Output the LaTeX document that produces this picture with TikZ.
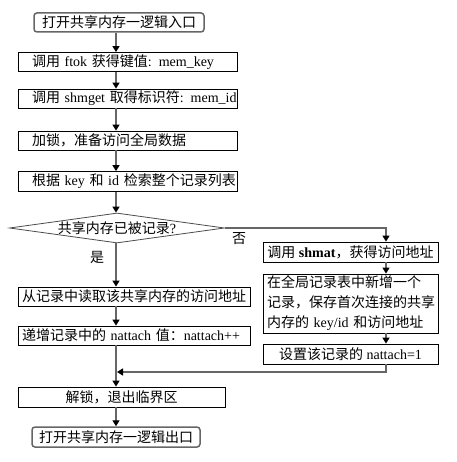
\documentclass[tikz,border=0pt]{standalone}
\usepackage{fontspec}
\setmainfont{Liberation Serif}
\newfontfamily\zhfont{Noto Sans CJK SC}
\newcommand{\zh}[1]{{\zhfont #1}}
\usetikzlibrary{calc,shapes.geometric,arrows.meta}
\tikzset{
	txt/.style={font=\fontsize{14}{20}\selectfont},
	box/.style={txt, draw, line width=0.8pt, inner ysep=0pt, minimum height=19pt},
	lbox/.style={box, align=left},
	cbox/.style={box, align=center},
	endbox/.style={box, draw=black!60, line width=1.5pt, rounded corners=3pt, align=center},
	dia/.style={txt, diamond, draw=black!70, line width=0.8pt, inner sep=0pt, minimum width=215pt, minimum height=30pt},
	arr/.style={draw=black!60, line width=1.4pt, -{Triangle[length=6pt,width=7pt,color=black]}},
}

\begin{document}
\begin{tikzpicture}[x=1pt, y=-1pt]
		%%%%% START %%%%%
		\useasboundingbox (0, 0) rectangle (456, 462);
		\fill[white] (0, 0) rectangle (456, 462);
		
		% lines of the two columns
		\coordinate (mx) at (116, 0);
		\coordinate (nx) at (386, 0);
		\coordinate (merge) at (116, 372);
		
		\node[endbox, minimum width=170pt] (start) at (119, 22.5) {\zh{打开共享内存一逻辑入口}};
		
		\node[lbox, inner xsep=14pt, text width=191pt] (key) at (127.5, 62) {\mbox{\zh{调用} ftok \zh{获得键值}: mem\_key}};
		\node[lbox, inner xsep=14pt, text width=191pt] (id) at (127.5, 98.5) {\mbox{\zh{调用} shmget \zh{取得标识符}: mem\_id}};
		\node[lbox, inner xsep=14pt, text width=191pt] (lock) at (127.5, 140.5) {\zh{加锁，准备访问全局数据}};
		\node[lbox, inner xsep=14pt, text width=191pt, minimum height=20pt] (search) at (127.5, 181.5) {\mbox{\zh{根据} key \zh{和} id \zh{检索整个记录列表}}};
		
		\node[dia] (found) at (117, 228) {\makebox[0pt]{\zh{共享内存已被记录}?}};
		
		% yes
		\node[lbox, inner xsep=4pt, text width=224pt] (read) at (134, 296.5) {\zh{从记录中读取该共享内存的访问地址}};
		\node[lbox, inner xsep=4pt, text width=224pt] (inc) at (134, 335.5) {\mbox{\zh{递增记录中的} nattach \zh{值：}nattach++}};
		
		% no
		\node[cbox, minimum width=175pt, minimum height=20pt] (attach) at (350.5, 252) {\mbox{\zh{调用} \textbf{shmat}\zh{，获得访问地址}}};
		\node[lbox, inner xsep=4pt, text width=167pt, minimum height=59pt] (add) at (350.5, 303.5) {\zh{在全局记录表中新增一个}\\\zh{记录，保存首次连接的共享}\\\mbox{\zh{内存的} key/id \zh{和访问地址}}};
		\node[cbox, minimum width=175pt, minimum height=20pt] (set) at (350.5, 354) {\mbox{\zh{设置该记录的} nattach=1}};
		
		\node[cbox, minimum width=207pt, minimum height=20pt] (unlock) at (121.5, 397) {\zh{解锁，退出临界区}};
		\node[endbox, minimum width=168pt, minimum height=20pt] (stop) at (116, 437) {\zh{打开共享内存一逻辑出口}};
		
		\node[txt] (yes) at (97, 257) {\zh{是}};
		\node[txt] (no) at (239, 239) {\zh{否}};
		
		% connectors
		\draw[arr] (start.south -| mx) -- (key.north -| mx);
		\draw[arr] (key.south -| mx) -- (id.north -| mx);
		\draw[arr] (id.south -| mx) -- (lock.north -| mx);
		\draw[arr] (lock.south -| mx) -- (search.north -| mx);
		\draw[arr] (search.south -| mx) -- (found.north -| mx);
		\draw[arr] (found.south -| mx) -- (read.north -| mx);
		\draw[arr] (read.south -| mx) -- (inc.north -| mx);
		\draw[arr] (inc.south -| mx) -- (unlock.north -| mx);
		\draw[arr] (unlock.south -| mx) -- (stop.north -| mx);
		
		\draw[arr] (found.east) -| (attach.north -| nx);
		\draw[arr] (attach.south -| nx) -- (add.north -| nx);
		\draw[arr] (add.south -| nx) -- (set.north -| nx);
		\draw[arr] (set.south -| nx) |- ([xshift=1pt]merge);
		
		%%%%% END %%%%%
\end{tikzpicture}
\end{document}
